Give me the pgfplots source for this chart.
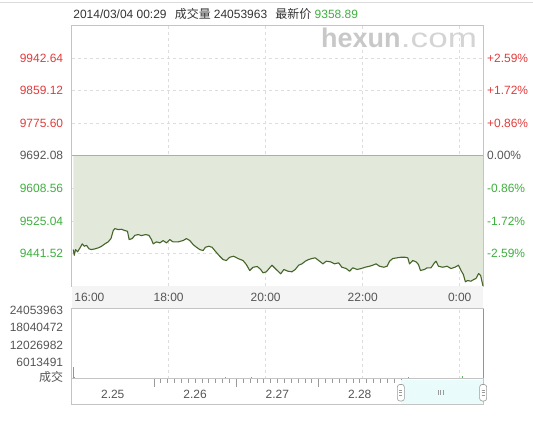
\documentclass[border=0pt]{standalone}
\usepackage{pgfplots}
\pgfplotsset{compat=1.18}
\usepgfplotslibrary{fillbetween}
\usepackage{fontspec}
\setmainfont{Liberation Sans}
\newfontfamily\cjk{Noto Sans CJK SC}
\definecolor{redc}{HTML}{E03C3C}
\definecolor{greenc}{HTML}{3EAF3E}
\definecolor{grayc}{HTML}{555555}
\definecolor{titlec}{HTML}{333333}
\definecolor{fillc}{HTML}{E2E9DB}
\definecolor{linec}{HTML}{45652A}
\definecolor{borderc}{HTML}{C4C4C4}
\definecolor{gridc}{HTML}{DDDDDD}
\definecolor{zeroc}{HTML}{A9AEB5}
\definecolor{bandc}{HTML}{F4F4F4}
\definecolor{cyanc}{HTML}{E9FBFB}
\definecolor{volc}{HTML}{5DBB5D}
\definecolor{tickc}{HTML}{9A9A9A}
\definecolor{wmc}{HTML}{C8C8C8}
\definecolor{wmc2}{HTML}{D4D4D4}
\definecolor{topc}{HTML}{DADADA}

\pgfplotstableread{
t p
2.1 9451.8
3.3 9437.2
4.9 9451.8
7.4 9445.9
10.4 9456.1
13.2 9466.4
15.7 9460.2
18.5 9462.8
21.5 9453.6
24.7 9451.8
28.9 9453.6
33.0 9456.1
37.0 9460.2
41.2 9466.4
45.3 9471.5
48.7 9479.9
51.5 9500.4
53.6 9505.5
57.7 9502.9
61.7 9503.7
65.9 9500.4
69.1 9498.6
71.2 9477.4
75.0 9479.9
78.3 9488.3
82.4 9490.1
86.4 9487.6
91.4 9490.1
95.6 9488.3
98.8 9477.4
100.9 9466.4
105.0 9471.5
109.2 9468.9
113.2 9474.8
117.3 9468.9
121.5 9477.4
124.3 9473.0
125.6 9471.5
131.8 9471.5
137.9 9474.8
142.0 9479.9
146.2 9474.8
150.3 9464.6
154.4 9457.7
158.5 9451.8
162.6 9449.2
165.5 9457.7
169.7 9460.2
173.7 9457.7
177.8 9447.4
183.2 9434.7
187.3 9426.2
191.4 9423.7
195.6 9432.1
200.5 9434.7
205.8 9428.8
212.0 9423.7
216.1 9413.4
220.3 9398.1
224.4 9406.5
229.7 9408.3
233.9 9400.7
236.7 9392.2
240.8 9394.8
245.0 9405.0
247.8 9411.7
253.1 9400.7
258.6 9389.7
262.6 9400.7
267.6 9396.3
272.5 9394.8
276.6 9400.7
280.8 9411.7
284.9 9415.2
289.0 9421.9
293.1 9426.2
297.2 9428.8
301.3 9430.6
306.7 9421.9
310.8 9415.2
314.9 9421.9
320.3 9420.3
325.2 9415.2
330.2 9417.8
334.3 9406.5
339.6 9403.2
343.8 9396.3
347.8 9405.0
353.2 9400.7
358.1 9403.2
363.0 9406.5
368.5 9409.1
372.5 9411.7
376.6 9415.2
380.8 9409.1
386.1 9406.5
390.2 9409.1
393.2 9421.9
397.2 9428.8
402.5 9430.6
407.5 9432.1
412.4 9432.1
415.8 9430.6
417.9 9415.2
421.9 9423.7
426.0 9420.3
429.0 9413.4
431.4 9398.1
436.4 9400.7
439.6 9405.0
444.5 9405.0
448.7 9417.8
450.7 9421.9
453.7 9409.1
459.0 9406.5
464.3 9409.1
469.2 9403.2
474.2 9406.5
478.4 9411.7
481.6 9398.1
484.5 9387.9
487.0 9369.2
489.8 9372.5
493.9 9370.7
497.3 9375.1
500.1 9377.6
503.4 9390.4
505.9 9385.3
508.7 9358.89
}\pricedata

\pgfplotstableread{
t v
1.5 4100000
3 650000
6 420000
10 380000
14 300000
18 350000
22 280000
27 310000
32 260000
37 330000
42 290000
47 240000
52 360000
57 270000
62 220000
68 300000
74 250000
80 210000
86 280000
92 230000
98 200000
104 260000
110 300000
116 220000
122 190000
128 240000
134 210000
140 280000
146 230000
152 200000
158 250000
164 270000
170 220000
176 310000
182 260000
188 240000
190 600000
196 280000
202 330000
208 260000
214 300000
220 420000
222 700000
226 380000
232 290000
238 260000
244 310000
250 240000
256 280000
262 230000
268 260000
274 210000
280 250000
286 220000
292 280000
298 240000
304 210000
310 260000
316 230000
322 200000
328 250000
334 220000
340 270000
346 240000
352 210000
358 280000
364 230000
370 260000
376 300000
382 250000
388 280000
394 330000
400 290000
406 350000
412 310000
416 500000
422 340000
428 300000
434 360000
440 320000
446 280000
452 340000
458 300000
464 330000
470 290000
476 350000
483 900000
488 420000
494 380000
500 330000
505 360000
509 24053963
}\voldata

\tikzset{every node/.style={font=\fontsize{12pt}{14pt}\selectfont, inner sep=0pt}}

\begin{document}
\begin{tikzpicture}
\path (0pt,0pt) rectangle (533pt,-421pt);
\draw[topc, line width=0.8pt] (0pt,-2.7pt) -- (533pt,-2.7pt);

% time label band
\fill[bandc] (71.3pt,-286.6pt) rectangle (483.5pt,-309pt);

% ---------------- main price axis ----------------
\begin{axis}[
  set layers,
  at={(71.3pt,-25.3pt)}, anchor=north west,
  scale only axis, width=412.2pt, height=261.3pt,
  xmin=0, xmax=509, ymin=9357.99, ymax=10026.17,
  xtick={120,240,360,480},
  ytick={9441.52,9525.04,9608.56,9775.60,9859.12,9942.64},
  xticklabels={}, yticklabels={},
  scaled x ticks=false, scaled y ticks=false,
  major tick length=0pt,
  grid=major,
  grid style={dash pattern=on 3pt off 3pt, color=gridc, line width=0.7pt},
  axis line style={draw=borderc, line width=0.9pt},
  clip=false,
]
\addplot[name path=price, draw=linec, line width=1.1pt, line join=round] table[x=t,y=p] {\pricedata};
\addplot[name path=base, draw=none] coordinates {(2.1,9692.08) (508.7,9692.08)};
\addplot[fill=fillc, draw=none] fill between[of=price and base];
\addplot[draw=zeroc, line width=0.9pt] coordinates {(0,9692.08) (509,9692.08)};

% left price labels
\node[anchor=east, text=redc] at ([xshift=-8.3pt]axis cs:0,9942.64) {9942.64};
\node[anchor=east, text=redc] at ([xshift=-8.3pt]axis cs:0,9859.12) {9859.12};
\node[anchor=east, text=redc] at ([xshift=-8.3pt]axis cs:0,9775.60) {9775.60};
\node[anchor=east, text=grayc] at ([xshift=-8.3pt]axis cs:0,9692.08) {9692.08};
\node[anchor=east, text=greenc] at ([xshift=-8.3pt]axis cs:0,9608.56) {9608.56};
\node[anchor=east, text=greenc] at ([xshift=-8.3pt]axis cs:0,9525.04) {9525.04};
\node[anchor=east, text=greenc] at ([xshift=-8.3pt]axis cs:0,9441.52) {9441.52};
% right percent labels
\node[anchor=west, text=redc] at ([xshift=3.8pt]axis cs:509,9942.64) {+2.59\%};
\node[anchor=west, text=redc] at ([xshift=3.8pt]axis cs:509,9859.12) {+1.72\%};
\node[anchor=west, text=redc] at ([xshift=3.8pt]axis cs:509,9775.60) {+0.86\%};
\node[anchor=west, text=grayc] at ([xshift=3.8pt]axis cs:509,9692.08) {0.00\%};
\node[anchor=west, text=greenc] at ([xshift=3.8pt]axis cs:509,9608.56) {-0.86\%};
\node[anchor=west, text=greenc] at ([xshift=3.8pt]axis cs:509,9525.04) {-1.72\%};
\node[anchor=west, text=greenc] at ([xshift=3.8pt]axis cs:509,9441.52) {-2.59\%};
% time labels
\node[anchor=west, text=grayc] at ([xshift=2.6pt,yshift=-11pt]axis cs:0,9357.99) {16:00};
\node[text=grayc] at ([yshift=-11pt]axis cs:120,9357.99) {18:00};
\node[text=grayc] at ([yshift=-11pt]axis cs:240,9357.99) {20:00};
\node[text=grayc] at ([yshift=-11pt]axis cs:360,9357.99) {22:00};
\node[text=grayc] at ([yshift=-11pt]axis cs:480,9357.99) {0:00};
\end{axis}

% ---------------- volume axis ----------------
\begin{axis}[
  at={(71.3pt,-309pt)}, anchor=north west,
  scale only axis, width=412.2pt, height=70.3pt,
  xmin=0, xmax=509, ymin=0, ymax=24053963,
  xtick={120,240,360,480}, ytick=\empty,
  xticklabels={},
  scaled x ticks=false, scaled y ticks=false,
  major tick length=0pt,
  xmajorgrids,
  grid style={dash pattern=on 3pt off 3pt, color=gridc, line width=0.7pt},
  axis line style={draw=borderc, line width=0.9pt},
  clip=false,
]
\addplot[ycomb, draw=volc, line width=0.6pt, mark=none] table[x=t,y=v] {\voldata};
\node[anchor=east, text=grayc] at ([xshift=-8.3pt,yshift=-1.5pt]axis cs:0,24053963) {24053963};
\node[anchor=east, text=grayc] at ([xshift=-8.3pt,yshift=-1.5pt]axis cs:0,18040472) {18040472};
\node[anchor=east, text=grayc] at ([xshift=-8.3pt,yshift=-1.5pt]axis cs:0,12026982) {12026982};
\node[anchor=east, text=grayc] at ([xshift=-8.3pt,yshift=-1.5pt]axis cs:0,6013491) {6013491};
\node[anchor=east, text=grayc] at ([xshift=-8.3pt,yshift=1.5pt]axis cs:0,0) {\cjk 成交};
\end{axis}

% ---------------- navigator axis ----------------
\begin{axis}[
  at={(71.3pt,-379.3pt)}, anchor=north west,
  scale only axis, width=412.2pt, height=25.7pt,
  xmin=0, xmax=5, ymin=0, ymax=1,
  xtick={1,2,3,4}, minor x tick num=11, ytick=\empty,
  xticklabels={},
  scaled x ticks=false, scaled y ticks=false,
  xtick pos=right, tick align=inside,
  major tick length=8pt, minor tick length=4pt,
  tick style={color=tickc, line width=0.6pt},
  axis line style={draw=borderc, line width=0.9pt},
  clip=false,
]
\fill[cyanc] (axis cs:4,0.02) rectangle (axis cs:5,0.97);
\node[text=grayc] at (axis cs:0.5,0.41) {2.25};
\node[text=grayc] at (axis cs:1.5,0.41) {2.26};
\node[text=grayc] at (axis cs:2.5,0.41) {2.27};
\node[text=grayc] at (axis cs:3.5,0.41) {2.28};
% handles
\node[draw=tickc, fill=white, rounded corners=2.5pt, minimum width=7pt, minimum height=16.5pt, line width=0.6pt] at (axis cs:4,0.455) {};
\node[draw=tickc, fill=white, rounded corners=2.5pt, minimum width=7pt, minimum height=16.5pt, line width=0.6pt] at (axis cs:5,0.455) {};
\draw[tickc, line width=0.5pt] ([xshift=-1.6pt,yshift=-2.5pt]axis cs:4,0.455) -- ++(3.2pt,0pt);
\draw[tickc, line width=0.5pt] ([xshift=-1.6pt,yshift=0pt]axis cs:4,0.455) -- ++(3.2pt,0pt);
\draw[tickc, line width=0.5pt] ([xshift=-1.6pt,yshift=2.5pt]axis cs:4,0.455) -- ++(3.2pt,0pt);
\draw[tickc, line width=0.5pt] ([xshift=-1.6pt,yshift=-2.5pt]axis cs:5,0.455) -- ++(3.2pt,0pt);
\draw[tickc, line width=0.5pt] ([xshift=-1.6pt,yshift=0pt]axis cs:5,0.455) -- ++(3.2pt,0pt);
\draw[tickc, line width=0.5pt] ([xshift=-1.6pt,yshift=2.5pt]axis cs:5,0.455) -- ++(3.2pt,0pt);
\draw[tickc, line width=0.7pt] ([xshift=-2.5pt,yshift=-2.5pt]axis cs:4.48,0.48) -- ++(0pt,5pt);
\draw[tickc, line width=0.7pt] ([xshift=0pt,yshift=-2.5pt]axis cs:4.48,0.48) -- ++(0pt,5pt);
\draw[tickc, line width=0.7pt] ([xshift=2.5pt,yshift=-2.5pt]axis cs:4.48,0.48) -- ++(0pt,5pt);
\end{axis}

% ---------------- title ----------------
\node[anchor=base west, text=titlec] at (72.9pt,-18.5pt) {2014/03/04 00:29};
\node[anchor=base west, text=titlec] at (174.6pt,-18.5pt) {\cjk 成交量};
\node[anchor=base west, text=titlec] at (213.6pt,-18.5pt) {24053963};
\node[anchor=base west, text=titlec] at (275.3pt,-18.5pt) {\cjk 最新价};
\node[anchor=base west, text=greenc] at (314.6pt,-18.5pt) {9358.89};

% ---------------- watermark ----------------
\node[anchor=base west, text=wmc] at (321pt,-47.5pt) {\fontsize{27pt}{27pt}\selectfont\bfseries hexun};
\node[anchor=base west, text=wmc2] at (401pt,-47.5pt) {\scalebox{1.3}[1]{\fontsize{27pt}{27pt}\selectfont .com}};
\end{tikzpicture}
\end{document}
